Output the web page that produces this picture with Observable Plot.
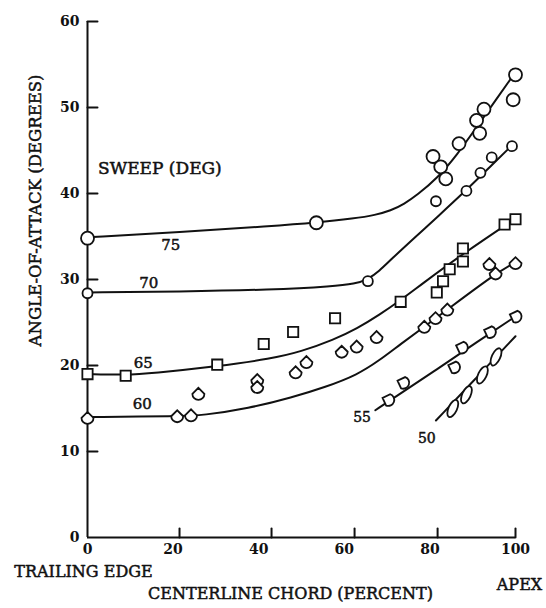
<!DOCTYPE html>
<html>
<head>
<meta charset="utf-8">
<script src="https://cdn.jsdelivr.net/npm/d3@7"></script>
<script src="https://cdn.jsdelivr.net/npm/@observablehq/plot@0.6"></script>
<style>
  html, body { margin: 0; padding: 0; background: #fff; overflow: hidden; }
  svg { display: block; }
</style>
</head>
<body>
<div id="chart"></div>
<script>
// ---- data ----
const xTicks = [0, 20, 40, 60, 80, 100];
const yTicks = [0, 10, 20, 30, 40, 50, 60];
const sweepNames = ["75", "70", "65", "60", "55", "50"];

// measured points [chord %, angle deg]
const pts75 = [[0,34.8],[50.8,36.6],[78.9,44.3],[80.8,43.1],[82.1,41.7],[85.5,45.8],[90.0,48.5],[90.8,47.0],[91.9,49.8],[99.4,50.9],[100,53.8]];
const pts70 = [[0,28.4],[63.2,29.8],[79.6,39.1],[87.4,40.3],[91.0,42.4],[93.9,44.2],[99.1,45.5]];
const pts65 = [[0,19.0],[8.3,18.8],[28.2,20.1],[38.3,22.5],[45.2,23.9],[55.3,25.5],[71.1,27.4],[79.8,28.5],[81.4,29.8],[83.1,31.2],[86.5,32.1],[86.5,33.6],[97.2,36.4],[100,37.0]];
const pts60 = [[0,13.9],[19.5,14.1],[22.5,14.2],[24.1,16.7],[36.9,18.3],[36.9,17.5],[45.8,19.2],[48.4,20.4],[56.9,21.6],[60.5,22.2],[65.3,23.3],[76.8,24.5],[79.5,25.5],[82.5,26.5],[93.3,31.8],[94.9,30.7],[100,31.9]];
const pts55 = [[68.1,16.0],[71.7,18.0],[84.2,19.8],[86.2,22.1],[93.4,23.9],[100,25.7]];
const pts50 = [[83.9,15.0],[87.4,16.6],[91.5,18.9],[95.0,21.0]];

// faired curves
const fit75 = [[0,34.9],[20,35.5],[40,36.2],[50.8,36.6],[60,37.1],[65,37.5],[68.7,38.0],[72,38.8],[75,39.8],[80,41.8],[85,44.5],[90,47.7],[95,50.9],[99.5,53.8]];
const fit70 = [[0,28.5],[20,28.6],[40,28.8],[55,29.2],[60,29.5],[63.2,30.0],[66,31.0],[68.7,32.3],[75,35.1],[80,37.3],[87.4,40.4],[93.9,43.3],[99.1,45.6]];
const fit65 = [[0,19.0],[8.3,18.9],[14,19.1],[28.2,19.9],[40,20.8],[47,21.6],[55,23.0],[60.6,24.3],[66,25.9],[71.1,27.6],[76,29.4],[86.5,33.0],[100,37.1]];
const fit60 = [[0,14.0],[20,14.1],[25,14.2],[35,15.0],[45,16.3],[53,17.5],[60.6,18.9],[66,20.6],[71.1,22.5],[76.8,24.5],[82.5,26.5],[94.9,30.7],[100,32.0]];
const fit55 = [[65,14.8],[70,16.4],[80,19.6],[90,22.7],[100,25.7]];
const fit50 = [[79.6,13.6],[90,18.6],[100,23.4]];

// ---- styling ----
const ink = "#111";
const font = "DejaVu Serif";
const W = 546, H = 608;

// the scanned chord axis is not evenly spaced: calibrate its tick positions (fraction of axis length)
const chordWarp = d3.scaleLinear().domain(xTicks).range([0, 21.5, 43.0, 62.4, 81.8, 100]);

function rot(deg) {
  const a = deg * Math.PI / 180, c = Math.cos(a), s = Math.sin(a);
  return (x, y) => [x * c - y * s, x * s + y * c];
}
// pointed top, rounded bottom
function dropSymbol(angle) {
  return {
    draw(ctx, size) {
      const r = Math.sqrt(size / Math.PI), R = rot(angle), a0 = angle * Math.PI / 180;
      ctx.moveTo(...R(-r, 0));
      ctx.lineTo(...R(0, -r));
      ctx.lineTo(...R(r, 0));
      ctx.arc(0, 0, r, a0, a0 + Math.PI);
      ctx.closePath();
    }
  };
}
function ellipseSymbol(angle, ratio) {
  return {
    draw(ctx, size) {
      const r = Math.sqrt(size / Math.PI), rx = r * ratio, ry = r, k = 0.5523, P = rot(angle);
      ctx.moveTo(...P(rx, 0));
      ctx.bezierCurveTo(...P(rx, k * ry), ...P(k * rx, ry), ...P(0, ry));
      ctx.bezierCurveTo(...P(-k * rx, ry), ...P(-rx, k * ry), ...P(-rx, 0));
      ctx.bezierCurveTo(...P(-rx, -k * ry), ...P(-k * rx, -ry), ...P(0, -ry));
      ctx.bezierCurveTo(...P(k * rx, -ry), ...P(rx, -k * ry), ...P(rx, 0));
      ctx.closePath();
    }
  };
}
const tickShape = { draw(ctx, l) { ctx.moveTo(0, 0); ctx.lineTo(0, -l); } };

const X = d => d[0], Y = d => d[1];
const curve = (data) => Plot.line(data, { x: X, y: Y, curve: "basis", stroke: ink, strokeWidth: 2 });
const dots = (data, symbol, r) => Plot.dot(data, { x: X, y: Y, symbol, r, fill: "white", stroke: ink, strokeWidth: 1.8 });
const txt = { fontFamily: font, fill: ink, stroke: ink, strokeWidth: 0.5 };

const chart = Plot.plot({
  width: W,
  height: H,
  marginTop: 21,
  marginBottom: 71,
  marginLeft: 87,
  marginRight: 31,
  style: { fontFamily: font, background: "white", color: ink, overflow: "visible" },
  x: { domain: [0, 100], transform: chordWarp },
  y: { domain: [0, 60] },
  marks: [
    Plot.ruleX([0], { stroke: ink, strokeWidth: 2 }),
    Plot.ruleY([0], { stroke: ink, strokeWidth: 2 }),
    Plot.vector(yTicks.slice(1), { x: () => 0, y: d => d, length: 10, rotate: 90, anchor: "start", shape: tickShape, stroke: ink, strokeWidth: 2 }),
    Plot.vector(xTicks.slice(1), { x: d => d, y: () => 0, length: 9, rotate: 0, anchor: "start", shape: tickShape, stroke: ink, strokeWidth: 2 }),
    Plot.axisY({ ticks: yTicks, tickSize: 0, tickPadding: 8, label: null, fontSize: 14, fontWeight: "bold", fontFamily: font, fill: ink }),
    Plot.axisX({ ticks: xTicks, tickSize: 0, tickPadding: 7, label: null, fontSize: 14, fontWeight: "bold", fontFamily: font, fill: ink }),

    curve(fit75), curve(fit70), curve(fit65), curve(fit60), curve(fit55), curve(fit50),

    dots(pts75, "circle", 6.5),
    dots(pts70, "circle", 5),
    dots(pts65, "square", 5.8),
    dots(pts60, dropSymbol(0), 6),
    dots(pts55, dropSymbol(-70), 6),
    dots(pts50, ellipseSymbol(25, 0.45), 9.3),

    // annotations
    Plot.text(["SWEEP (DEG)"], { x: () => 2.3, y: () => 42.9, textAnchor: "start", fontSize: 17, ...txt }),
    Plot.text([sweepNames[0]], { x: () => 18.1, y: () => 34.0, fontSize: 15, ...txt }),
    Plot.text([sweepNames[1]], { x: () => 13.3, y: () => 29.6, fontSize: 15, ...txt }),
    Plot.text([sweepNames[2]], { x: () => 12.1, y: () => 20.3, fontSize: 15, ...txt }),
    Plot.text([sweepNames[3]], { x: () => 11.9, y: () => 15.5, fontSize: 15, ...txt }),
    Plot.text([sweepNames[4]], { x: () => 61.8, y: () => 13.9, fontSize: 14, ...txt }),
    Plot.text([sweepNames[5]], { x: () => 77.4, y: () => 11.5, fontSize: 14, ...txt }),

    // axis titles
    Plot.text(["ANGLE-OF-ATTACK (DEGREES)"], { frameAnchor: "left", textAnchor: "middle", rotate: -90, dx: -52, dy: -69, fontSize: 16.5, ...txt }),
    Plot.text(["TRAILING EDGE"], { frameAnchor: "bottom-left", textAnchor: "middle", dx: -4, dy: 39, fontSize: 16, ...txt }),
    Plot.text(["CENTERLINE CHORD (PERCENT)"], { frameAnchor: "bottom", textAnchor: "middle", dx: -11, dy: 61, fontSize: 16, ...txt }),
    Plot.text(["APEX"], { frameAnchor: "bottom-right", textAnchor: "middle", dx: 4, dy: 52, fontSize: 16, ...txt })
  ]
});
document.getElementById("chart").appendChild(chart);
</script>
</body>
</html>
